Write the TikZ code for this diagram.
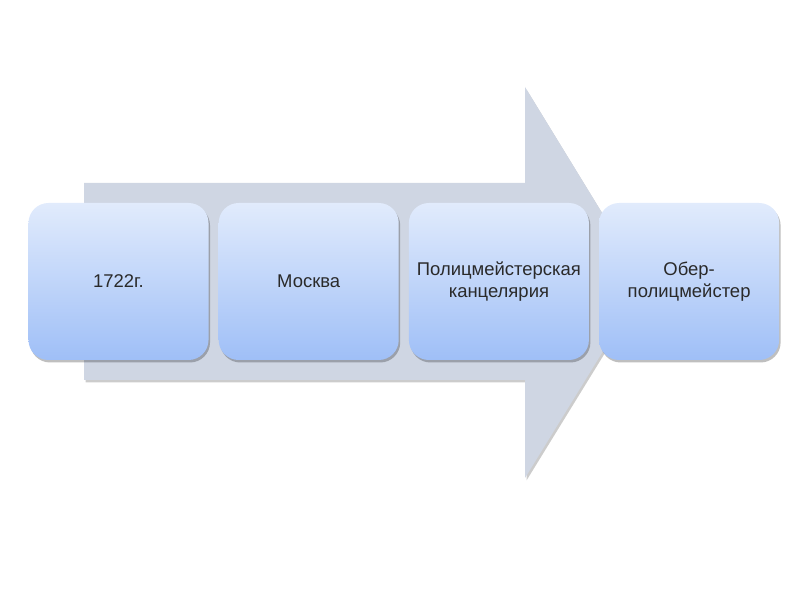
\documentclass[tikz,border=0pt]{standalone}
\usepackage{fontspec}
\setmainfont{Liberation Sans}
\usetikzlibrary{positioning,shadows}
\definecolor{arrowfill}{HTML}{CFD6E3}
\definecolor{boxtop}{HTML}{E1EBFC}
\definecolor{boxbottom}{HTML}{9FBFF7}
\definecolor{boxtext}{HTML}{2A2A2A}
\begin{document}
\begin{tikzpicture}[
  x=0.2mm,y=-0.2mm,
  font=\fontsize{10.5}{12.5}\selectfont,
  node distance=1.9mm,
  stage/.style={rounded corners=4mm,top color=boxtop,bottom color=boxbottom,
    minimum width=36mm,minimum height=31.4mm,align=center,
    text=boxtext,inner sep=1pt,
    drop shadow={shadow xshift=0.3mm,shadow yshift=-0.5mm,opacity=0.25,fill=black}},
  bigarrow/.style={fill=arrowfill,
    drop shadow={shadow xshift=0.3mm,shadow yshift=-0.5mm,opacity=0.2,fill=black}}]
\useasboundingbox (0,0) rectangle (800,600);
% background arrow
\path[bigarrow] (84,183) -- (525,183) -- (525,87) -- (645,283)
  -- (525,478) -- (525,380) -- (84,380) -- cycle;
% stages
\node[stage] (year) at (118.5,281.5) {1722г.};
\node[stage,right=of year] (city) {Москва};
\node[stage,right=of city] (office) {Полицмейстерская\\канцелярия};
\node[stage,right=of office] (chief) {Обер-\\полицмейстер};
\end{tikzpicture}
\end{document}
